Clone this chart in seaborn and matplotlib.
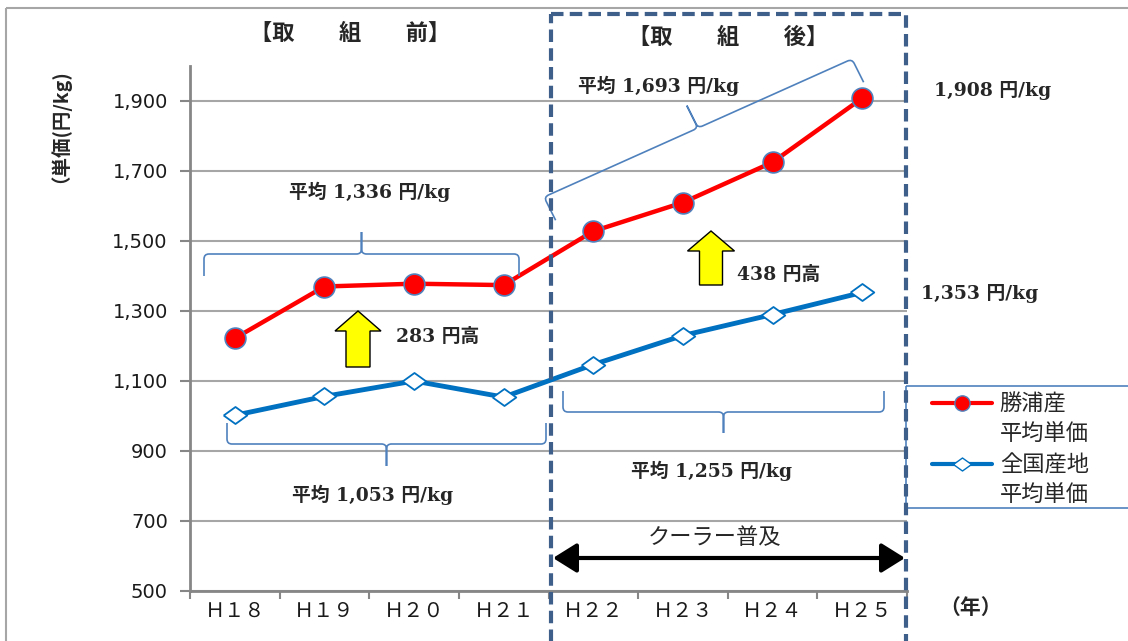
import numpy as np
import pandas as pd
import matplotlib
matplotlib.use("Agg")
import matplotlib.pyplot as plt
import matplotlib.patches as mpatches
import matplotlib.transforms as mtransforms
from matplotlib.path import Path
from matplotlib.lines import Line2D
import seaborn as sns

# data
years = ["Ｈ１８", "Ｈ１９", "Ｈ２０", "Ｈ２１", "Ｈ２２", "Ｈ２３", "Ｈ２４", "Ｈ２５"]
katsuura = [1222, 1370, 1378, 1374, 1528, 1610, 1725, 1908]
national = [1002, 1056, 1100, 1054, 1147, 1230, 1290, 1353]
y_ticks = [500, 700, 900, 1100, 1300, 1500, 1700, 1900]
legend_labels = ["勝浦産", "平均単価", "全国産地", "平均単価"]

W, H = 1128, 641
JP = "Noto Sans CJK JP"
SERIF_JP = ["DejaVu Serif", "Noto Sans CJK JP"]
RED = "#FF0000"
BLUE = "#0070C0"
BRACE = "#4F81BD"

sns.set_theme(style="white")
plt.rcParams["font.family"] = ["DejaVu Sans", JP]

fig = plt.figure(figsize=(W / 100, H / 100), dpi=100)
fig.patch.set_facecolor("white")
# pixel coordinates with the origin at the top left
T = mtransforms.Affine2D().scale(1, -1).translate(0, H)

ax = fig.add_axes([190 / W, 1 - 591 / H, 717 / W, 525 / H])

df = pd.DataFrame({"year": years, "katsuura": katsuura, "national": national})
diamond = [(-1, 0), (0, 0.72), (1, 0), (0, -0.72), (-1, 0)]

sns.lineplot(data=df, x="year", y="national", ax=ax, sort=False, color=BLUE,
             linewidth=3.5, marker=diamond, markersize=17, markerfacecolor="white",
             markeredgecolor=BLUE, markeredgewidth=1.3, zorder=3)
sns.lineplot(data=df, x="year", y="katsuura", ax=ax, sort=False, color=RED,
             linewidth=3.2, marker="o", markersize=15, markerfacecolor=RED,
             markeredgecolor=BRACE, markeredgewidth=1.2, zorder=4)

ax.set_xlim(-0.5, len(years) - 0.5)
ax.set_ylim(500, 2000)
ax.set_yticks(y_ticks)
ax.set_yticklabels([f"{v:,}" for v in y_ticks], fontsize=14, color="#1a1a1a")
ax.set_xticks(range(len(years)))
ax.set_xticklabels(years, fontfamily=JP, fontsize=14.5, color="#1a1a1a")
ax.set_xticks(np.arange(-0.5, len(years)), minor=True)
ax.tick_params(axis="x", which="major", bottom=False, length=0, pad=7)
ax.tick_params(axis="x", which="minor", bottom=True, length=6, width=1.5, color="#868686")
ax.tick_params(axis="y", left=True, length=7, width=1.5, color="#868686", pad=9)
ax.set_xlabel("")
ax.set_ylabel("")
ax.grid(axis="y", color="#A6A6A6", linewidth=1.5)
ax.grid(axis="x", visible=False)
ax.set_axisbelow(True)
for s in ["top", "right"]:
    ax.spines[s].set_visible(False)
for s in ["left", "bottom"]:
    ax.spines[s].set_color("#868686")
    ax.spines[s].set_linewidth(2)

# legend
h_red = Line2D([], [], color=RED, lw=3, marker="o", markersize=11,
               markerfacecolor=RED, markeredgecolor=BRACE)
h_blue = Line2D([], [], color=BLUE, lw=3, marker=diamond, markersize=13,
                markerfacecolor="white", markeredgecolor=BLUE)
blank = Line2D([], [], lw=0, alpha=0)
ax.legend([h_red, blank, h_blue, blank], legend_labels, loc="upper left",
          bbox_to_anchor=(932 / W, 1 - 393 / H), bbox_transform=fig.transFigure,
          frameon=False, prop={"family": JP, "size": 16}, handlelength=2.7,
          handletextpad=0.35, labelspacing=0.33, borderpad=0, borderaxespad=0)


def ptext(x, y, s, **kw):
    kw.setdefault("ha", "center")
    kw.setdefault("va", "center")
    fig.text(x / W, 1 - y / H, s, **kw)


def brace(p0, p1, n, d, tip, r=5):
    p0 = np.array(p0, float)
    p1 = np.array(p1, float)
    n = np.array(n, float)
    n = n / np.hypot(*n)
    u = (p1 - p0) / np.hypot(*(p1 - p0))
    m = (p0 + p1) / 2
    verts = [p0 + n * d, p0 + n * r, p0, p0 + u * r, m - u * r, m, m - n * r,
             m - n * tip, m - n * r, m, m + u * r, p1 - u * r, p1, p1 + n * r, p1 + n * d]
    codes = [Path.MOVETO, Path.LINETO, Path.CURVE3, Path.CURVE3, Path.LINETO,
             Path.CURVE3, Path.CURVE3, Path.LINETO, Path.LINETO, Path.CURVE3,
             Path.CURVE3, Path.LINETO, Path.CURVE3, Path.CURVE3, Path.LINETO]
    fig.add_artist(mpatches.PathPatch(Path(verts, codes), fill=False, ec=BRACE,
                                      lw=1.2, transform=T))


brace((204, 254), (519, 254), (0, 1), 22, 22)
brace((227, 444), (546, 444), (0, -1), 21, 22)
brace((563, 412), (884, 412), (0, -1), 21, 21)
brace((544, 197), (852, 59), (0.5, 1), 26, 25)

# outer frame, legend frame and dashed "after" box
fig.add_artist(mpatches.Rectangle((6, 8), 1200, 700, fill=False, ec="#A6A6A6",
                                  lw=1.5, transform=T))
fig.add_artist(mpatches.Rectangle((906, 386), 300, 122, fill=False, ec=BRACE,
                                  lw=1.2, transform=T))
fig.add_artist(mpatches.Rectangle((551, 14), 355, 700, fill=False, ec="#3E5F8A",
                                  lw=3, ls=(0, (3, 1.5)), transform=T))

# yellow arrows
for x, y0, y1, w, hw in [(358, 367, 311, 24, 46), (711, 285, 231, 23, 47)]:
    fig.add_artist(mpatches.FancyArrow(x, y0, 0, y1 - y0, width=w, head_width=hw,
                                       head_length=20, length_includes_head=True,
                                       fc="#FFFF00", ec="black", lw=1, transform=T))

# cooler double arrow
fig.add_artist(mpatches.FancyArrowPatch((553, 558), (905, 558),
                                        arrowstyle="<|-|>,head_length=0.8,head_width=0.5",
                                        mutation_scale=18, lw=3, color="black",
                                        shrinkA=0, shrinkB=0, transform=T))

# texts
ptext(350, 33, "【取　　組　　前】", fontfamily=JP, fontsize=16, fontweight="bold")
ptext(728, 37, "【取　　組　　後】", fontfamily=JP, fontsize=16, fontweight="bold")
ptext(50, 121, "（単価(円/kg)", fontfamily=JP, fontsize=14, fontweight="bold", rotation=90)
ptext(370, 192, "平均 1,336 円/kg", fontfamily=SERIF_JP, fontsize=13.5, fontweight="bold")
ptext(659, 86, "平均 1,693 円/kg", fontfamily=SERIF_JP, fontsize=13.5, fontweight="bold")
ptext(993, 91, "1,908 円/kg", fontfamily=SERIF_JP, fontsize=13.5, fontweight="bold")
ptext(980, 293, "1,353 円/kg", fontfamily=SERIF_JP, fontsize=13.5, fontweight="bold")
ptext(438, 337, "283 円高", fontfamily=SERIF_JP, fontsize=13.5, fontweight="bold")
ptext(779, 275, "438 円高", fontfamily=SERIF_JP, fontsize=13.5, fontweight="bold")
ptext(373, 495, "平均 1,053 円/kg", fontfamily=SERIF_JP, fontsize=13.5, fontweight="bold")
ptext(712, 471, "平均 1,255 円/kg", fontfamily=SERIF_JP, fontsize=13.5, fontweight="bold")
ptext(715, 538, "クーラー普及", fontfamily=JP, fontsize=16)
ptext(971, 607, "（年）", fontfamily=JP, fontsize=15, fontweight="bold")

fig.savefig("out.png", dpi=100)
